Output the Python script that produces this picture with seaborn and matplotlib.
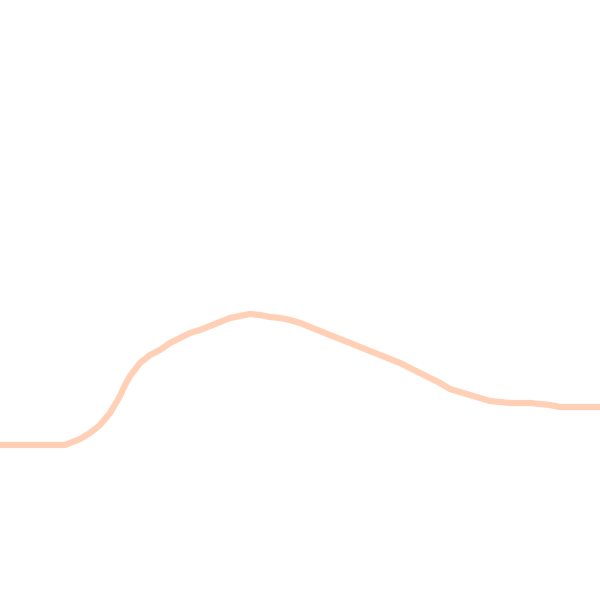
import matplotlib
matplotlib.use("Agg")
import matplotlib.pyplot as plt
import pandas as pd
import seaborn as sns

# CONSTANT: Colors
LINE_COLOR = "#FFD0B6"

# Data (x position, curve height)
X_VALUES = [0, 20, 40, 65, 70, 80, 90, 100, 110, 120, 125, 130, 140, 150, 160,
            170, 180, 190, 200, 210, 220, 230, 240, 250, 260, 270, 280, 290,
            300, 310, 320, 330, 340, 350, 360, 370, 380, 390, 400, 410, 420,
            430, 440, 450, 460, 470, 480, 490, 500, 510, 520, 530, 540, 550,
            560, 570, 580, 590, 600]
Y_VALUES = [155, 155, 155, 155, 157, 161, 167, 175, 187, 204, 215, 224, 237,
            245, 250, 257, 262, 267, 270, 274, 278, 282, 284, 286, 285, 283,
            282, 280, 277, 273, 269, 265, 261, 257, 253, 249, 245, 241, 237,
            232, 227, 222, 217, 211, 208, 205, 202, 199, 198, 197, 197, 197,
            196, 195, 193, 193, 193, 193, 193]

df = pd.DataFrame({"x": X_VALUES, "y": Y_VALUES})

sns.set_style("white")
fig = plt.figure(figsize=(6, 6), dpi=100)
ax = fig.add_axes([0, 0, 1, 1])
sns.lineplot(data=df, x="x", y="y", ax=ax, color=LINE_COLOR, linewidth=4.5)
ax.set_xlim(0, 600)
ax.set_ylim(0, 600)
ax.axis("off")

plt.savefig("out.png", dpi=100, facecolor="white")
